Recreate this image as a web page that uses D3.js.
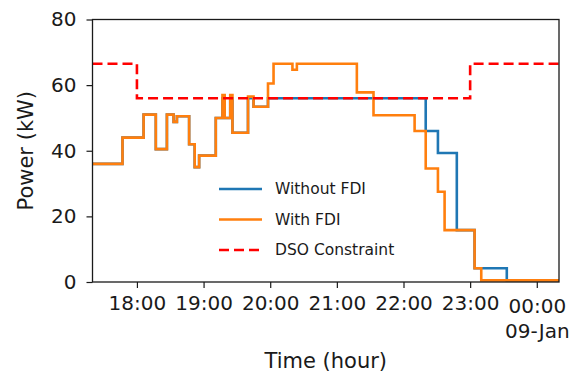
<!DOCTYPE html>
<html>
<head>
<meta charset="utf-8">
<script src="https://cdn.jsdelivr.net/npm/d3@7"></script>
<style>
  body { margin: 0; background: #fff; }
  text { font-family: "DejaVu Sans", sans-serif; fill: #1a1a1a; }
</style>
</head>
<body>
<svg id="chart" width="581" height="374"></svg>
<script>
// step series (clock time -> kW)
const fdiTimes = ["17:20", "17:47", "18:06", "18:17", "18:27", "18:33", "18:36", "18:47", "18:52", "18:56",
  "19:11", "19:17", "19:19", "19:24", "19:26", "19:40", "19:45", "19:58", "20:03", "20:20", "20:24",
  "21:18", "21:33", "22:10", "22:20", "22:31", "22:37", "23:04", "23:10", "00:20"];
const fdiValues = [36, 44, 51, 40.5, 51, 48.8, 50.5, 42, 35, 38.5,
  50, 57, 50, 57, 45.5, 56.5, 53.4, 60.5, 66.5, 64.7, 66.5,
  57.8, 50.8, 46, 34.6, 27.5, 15.8, 4.2, 0.5, 0.5];

const noFdiTimes = ["17:20", "17:47", "18:06", "18:17", "18:27", "18:33", "18:36", "18:47", "18:52", "18:56",
  "19:11", "19:17", "19:19", "19:24", "19:26", "19:40", "19:45", "19:58",
  "22:20", "22:31", "22:48", "23:04", "23:33", "00:20"];
const noFdiValues = [36, 44, 51, 40.5, 51, 48.8, 50.5, 42, 35, 38.5,
  50, 56, 50, 56, 45.5, 56, 53.4, 56,
  46, 39.3, 15.8, 4.2, 0.5, 0.5];

const dsoTimes = ["17:20", "18:00", "23:00", "00:20"];
const dsoValues = [66.5, 56, 66.5, 66.5];

const yTicks = [0, 20, 40, 60, 80];
const xTicks = ["18:00", "19:00", "20:00", "21:00", "22:00", "23:00", "00:00"];
const seriesNames = ["Without FDI", "With FDI", "DSO Constraint"];

const parse = d3.timeParse("%Y-%m-%d %H:%M");
const toDate = s => parse(`2020-01-${+s.slice(0, 2) < 12 ? "09" : "08"} ${s}`);

const margin = { top: 19.5, right: 22, bottom: 92, left: 92.5 };
const width = 581, height = 374;

const svg = d3.select('#chart');
svg.append('rect').attr('width', width).attr('height', height).attr('fill', '#fff');

const x = d3.scaleTime()
  .domain([toDate("17:20"), toDate("00:20")])
  .range([margin.left, width - margin.right]);
const y = d3.scaleLinear()
  .domain([0, 80])
  .range([height - margin.bottom, margin.top]);

const line = d3.line()
  .x(d => x(d[0]))
  .y(d => y(d[1]))
  .curve(d3.curveStepAfter);

const zip = (ts, vs) => ts.map((t, i) => [toDate(t), vs[i]]);

const plot = svg.append('g');
plot.append('path')
  .attr('d', line(zip(noFdiTimes, noFdiValues)))
  .attr('fill', 'none').attr('stroke', '#1f77b4').attr('stroke-width', 2.6);
plot.append('path')
  .attr('d', line(zip(fdiTimes, fdiValues)))
  .attr('fill', 'none').attr('stroke', '#ff7f0e').attr('stroke-width', 2.6);
plot.append('path')
  .attr('d', line(zip(dsoTimes, dsoValues)))
  .attr('fill', 'none').attr('stroke', '#ff0000').attr('stroke-width', 2.6)
  .attr('stroke-dasharray', '10,5');

// axes
const yAxis = svg.append('g')
  .attr('transform', `translate(${margin.left},0)`)
  .call(d3.axisLeft(y).tickValues(yTicks).tickSize(6).tickPadding(10));
const xAxis = svg.append('g')
  .attr('transform', `translate(0,${height - margin.bottom})`)
  .call(d3.axisBottom(x).tickValues(xTicks.map(toDate)).tickSize(6).tickFormat(d3.timeFormat("%H:%M")));

[yAxis, xAxis].forEach(a => {
  a.select('.domain').remove();
  a.selectAll('line').attr('stroke', '#1a1a1a').attr('stroke-width', 1.2);
  a.selectAll('text').style('font-size', '20px').attr('fill', '#1a1a1a');
});
xAxis.selectAll('text').attr('y', 28).attr('dy', 0);
xAxis.selectAll('.tick').filter(d => d.getHours() === 0).select('text')
  .attr('y', 31)
  .append('tspan').attr('x', 0).attr('y', 56).text(d3.timeFormat("%d-%b")(toDate("00:00")));

// frame
svg.append('rect')
  .attr('x', margin.left).attr('y', margin.top)
  .attr('width', width - margin.right - margin.left)
  .attr('height', height - margin.bottom - margin.top)
  .attr('fill', 'none').attr('stroke', '#1a1a1a').attr('stroke-width', 1.3);

// axis labels
svg.append('text')
  .attr('x', (margin.left + width - margin.right) / 2).attr('y', 368)
  .attr('text-anchor', 'middle').style('font-size', '21px')
  .text('Time (hour)');
svg.append('text')
  .attr('transform', `translate(33,${(margin.top + height - margin.bottom) / 2}) rotate(-90)`)
  .attr('text-anchor', 'middle').style('font-size', '21px')
  .text('Power (kW)');

// legend
const legendColors = ['#1f77b4', '#ff7f0e', '#ff0000'];
const legend = svg.append('g').attr('transform', 'translate(219,189)');
seriesNames.forEach((name, i) => {
  const g = legend.append('g').attr('transform', `translate(0,${i * 30.5})`);
  g.append('line').attr('x1', 0).attr('x2', 43)
    .attr('stroke', legendColors[i]).attr('stroke-width', 2.6)
    .attr('stroke-dasharray', i === 2 ? '10,5' : null);
  g.append('text').attr('x', 56).attr('dy', '0.35em')
    .style('font-size', '15.5px').text(name);
});
</script>
</body>
</html>
